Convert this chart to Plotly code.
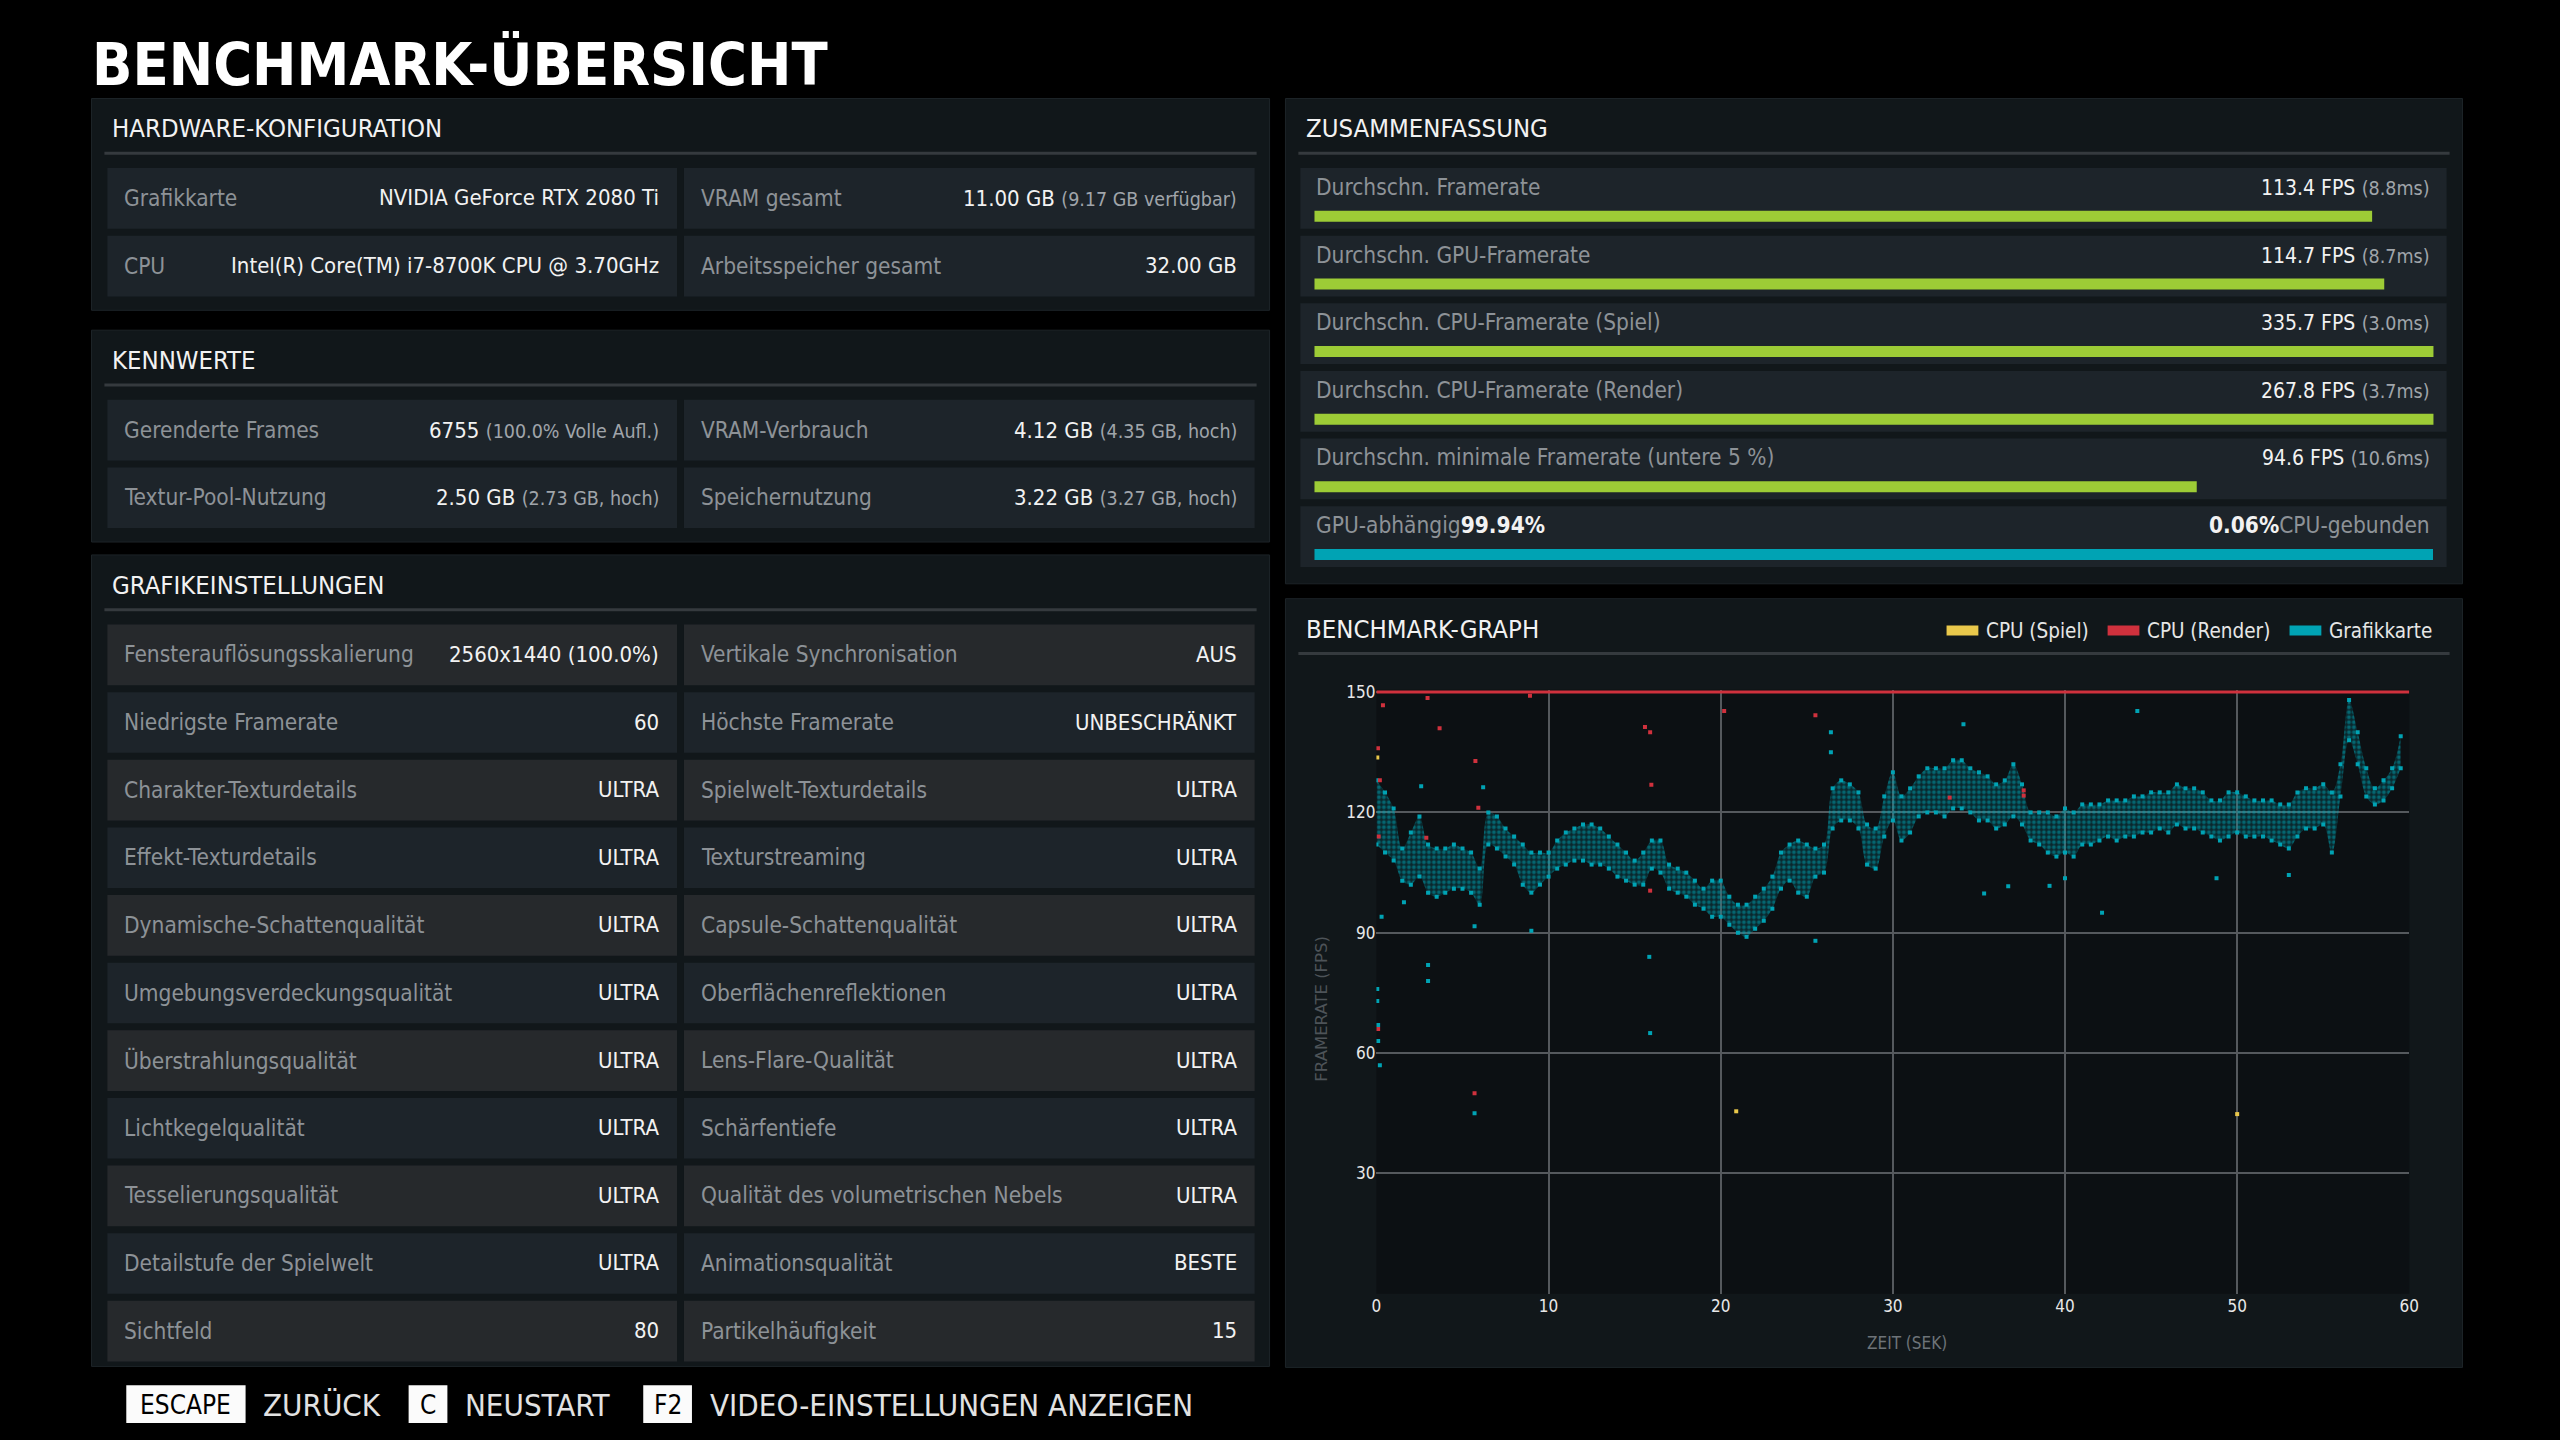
import plotly.graph_objects as go

W, H = 2560, 1440
FONT = "DejaVu Sans Condensed, Liberation Sans Narrow, Noto Sans, sans-serif"

# ---------------- data ----------------
hardware_left = [("Grafikkarte", "NVIDIA GeForce RTX 2080 Ti", ""),
                 ("CPU", "Intel(R) Core(TM) i7-8700K CPU @ 3.70GHz", "")]
hardware_right = [("VRAM gesamt", "11.00 GB", "(9.17 GB verfügbar)"),
                  ("Arbeitsspeicher gesamt", "32.00 GB", "")]

kennwerte_left = [("Gerenderte Frames", "6755", "(100.0% Volle Aufl.)"),
                  ("Textur-Pool-Nutzung", "2.50 GB", "(2.73 GB, hoch)")]
kennwerte_right = [("VRAM-Verbrauch", "4.12 GB", "(4.35 GB, hoch)"),
                   ("Speichernutzung", "3.22 GB", "(3.27 GB, hoch)")]

grafik_left = [("Fensterauflösungsskalierung", "2560x1440 (100.0%)"),
               ("Niedrigste Framerate", "60"),
               ("Charakter-Texturdetails", "ULTRA"),
               ("Effekt-Texturdetails", "ULTRA"),
               ("Dynamische-Schattenqualität", "ULTRA"),
               ("Umgebungsverdeckungsqualität", "ULTRA"),
               ("Überstrahlungsqualität", "ULTRA"),
               ("Lichtkegelqualität", "ULTRA"),
               ("Tesselierungsqualität", "ULTRA"),
               ("Detailstufe der Spielwelt", "ULTRA"),
               ("Sichtfeld", "80")]
grafik_right = [("Vertikale Synchronisation", "AUS"),
                ("Höchste Framerate", "UNBESCHRÄNKT"),
                ("Spielwelt-Texturdetails", "ULTRA"),
                ("Texturstreaming", "ULTRA"),
                ("Capsule-Schattenqualität", "ULTRA"),
                ("Oberflächenreflektionen", "ULTRA"),
                ("Lens-Flare-Qualität", "ULTRA"),
                ("Schärfentiefe", "ULTRA"),
                ("Qualität des volumetrischen Nebels", "ULTRA"),
                ("Animationsqualität", "BESTE"),
                ("Partikelhäufigkeit", "15")]

summary_labels = ["Durchschn. Framerate", "Durchschn. GPU-Framerate",
                  "Durchschn. CPU-Framerate (Spiel)", "Durchschn. CPU-Framerate (Render)",
                  "Durchschn. minimale Framerate (untere 5 %)"]
summary_fps = [113.4, 114.7, 335.7, 267.8, 94.6]
summary_ms = [8.8, 8.7, 3.0, 3.7, 10.6]
bar_max_fps = 120
gpu_bound_pct = 99.94
cpu_bound_pct = 0.06

# framerate graph, GPU point cloud read every 0.5 s (upper / lower edge of the band)
gpu_t = [i * 0.5 for i in range(120)]
gpu_upper = [128, 125, 121, 111, 115, 119, 112, 111, 111, 112, 111, 110, 106, 120, 119, 116, 114, 112, 110, 110,
             110, 113, 115, 116, 117, 117, 116, 114, 112, 110, 108, 110, 113, 113, 107, 106, 105, 103, 101, 103,
             103, 99, 97, 97, 99, 101, 104, 110, 112, 113, 112, 111, 112, 126, 128, 127, 125, 117, 116, 124,
             130, 124, 126, 129, 131, 131, 131, 133, 133, 131, 130, 129, 127, 128, 132, 127, 120, 120, 120, 119,
             121, 120, 122, 122, 122, 123, 123, 123, 124, 124, 125, 125, 125, 127, 126, 126, 125, 123, 123, 125,
             125, 124, 123, 123, 123, 122, 122, 125, 126, 126, 127, 125, 132, 148, 140, 131, 126, 128, 131, 139]
gpu_lower = [112, 110, 108, 103, 102, 104, 100, 99, 100, 101, 101, 100, 97, 112, 111, 109, 107, 102, 100, 102,
             104, 106, 107, 108, 108, 107, 107, 106, 104, 103, 102, 102, 106, 105, 101, 100, 99, 97, 96, 94,
             94, 92, 90, 89, 91, 93, 96, 101, 103, 100, 99, 104, 105, 116, 118, 118, 116, 107, 106, 114,
             118, 113, 115, 119, 120, 120, 119, 121, 121, 120, 118, 118, 116, 117, 119, 117, 113, 112, 110, 109,
             110, 109, 112, 112, 113, 114, 113, 114, 114, 115, 115, 116, 115, 117, 116, 116, 115, 114, 113, 114,
             115, 114, 114, 114, 113, 112, 111, 114, 116, 116, 117, 110, 124, 138, 132, 124, 122, 123, 126, 131]

gpu_out_t = [0.05, 0.05, 0.1, 0.1, 0.2, 0.3, 1.6, 2.6, 3.0, 3.0, 5.7, 5.7, 6.2, 9.0, 15.85, 15.9,
             25.5, 26.4, 26.4, 34.1, 35.3, 36.7, 39.1, 40.0, 42.15, 44.2, 48.8, 53.0]
gpu_out_fps = [76, 73, 67, 63, 57, 94, 97.6, 126.5, 82, 78, 91.6, 45, 126.3, 90.5, 84, 65,
               88, 140, 135, 142, 99.8, 101.6, 101.7, 103.6, 95, 145.3, 103.6, 104.4]
render_out_t = [0.09, 0.13, 0.2, 0.38, 2.9, 2.97, 3.67, 5.7, 5.75, 5.92, 8.92, 15.6, 15.9, 15.9,
                15.97, 20.2, 25.5, 33.3, 37.6, 37.6, 0.1]
render_out_fps = [136, 114, 128, 146.7, 113.7, 148.5, 141, 50, 132.8, 121.2, 149.1, 141.3, 140, 100.5,
                  126.9, 145.3, 144.2, 123.7, 125.5, 124.2, 66]
game_out_t = [0.05, 20.9, 50.0]
game_out_fps = [133.7, 45.5, 44.8]
cpu_render_t = [0, 60]
cpu_render_fps = [267.8, 267.8]   # off the chart, clipped at the top

graph_ymax = 150
x_ticks = [0, 10, 20, 30, 40, 50, 60]
y_ticks = [30, 60, 90, 120, 150]

# ---------------- colours ----------------
BG = "#000000"
PANEL = "#11171a"
PANEL_EDGE = "#1d2428"
ROW = "#1d242a"
ROW_ALT = "#26292c"
SEP = "#353a3e"
LABEL = "#8d9297"
VALUE = "#f2f2f2"
SUB = "#a0a5aa"
GREEN = "#9dcc36"
TEAL = "#00a3b4"
RED = "#d0313d"
YELLOW = "#e9c84b"

LBL_SIZE = 22.5
VAL_SIZE = 22
SUB_SIZE = 19.5


def px(x):
    return x / W


def py(y):
    return 1 - y / H


shapes = []
annotations = []


def rect(x0, y0, x1, y1, color, line=None):
    shapes.append(dict(type="rect", xref="paper", yref="paper", layer="below",
                       x0=px(x0), x1=px(x1), y0=py(y1), y1=py(y0), fillcolor=color,
                       line=dict(width=1, color=line) if line else dict(width=0)))


def text(x, y, s, size=LBL_SIZE, color=VALUE, anchor="left", family=FONT, angle=0):
    annotations.append(dict(xref="paper", yref="paper", x=px(x), y=py(y), text=s,
                            showarrow=False, xanchor=anchor, yanchor="middle", textangle=angle,
                            font=dict(family=family, size=size, color=color)))


def panel(x0, y0, x1, y1, title):
    rect(x0, y0, x1, y1, PANEL, PANEL_EDGE)
    text(x0 + 19, y0 + 30, title, size=25.5)
    shapes.append(dict(type="line", xref="paper", yref="paper", layer="below",
                       x0=px(x0 + 13), x1=px(x1 - 13), y0=py(y0 + 55), y1=py(y0 + 55),
                       line=dict(color=SEP, width=3)))


def value_text(main, sub, size=VAL_SIZE):
    main = f"<span style='font-size:{size}px'>{main}</span>"
    if sub:
        return f"{main} <span style='font-size:{SUB_SIZE}px;color:{SUB}'>{sub}</span>"
    return main


def rows(top, col, items, alternate=False):
    x0, x1 = col
    for i, item in enumerate(items):
        y0 = top + 70 + 68 * i
        color = ROW_ALT if alternate and i % 2 == 0 else ROW
        rect(x0, y0, x1, y0 + 61, color)
        text(x0 + 15, y0 + 30, item[0], color=LABEL)
        sub = item[2] if len(item) > 2 else ""
        text(x1 - 16, y0 + 30, value_text(item[1], sub), anchor="right")


LEFT_COL = (103, 676)
RIGHT_COL = (683, 1257)

# title
text(85, 57, "<b>BENCHMARK-ÜBERSICHT</b>", size=59, color="#ffffff")

# left column panels
panel(87, 91, 1272, 304, "HARDWARE-KONFIGURATION")
rows(91, LEFT_COL, hardware_left)
rows(91, RIGHT_COL, hardware_right)

panel(87, 324, 1272, 537, "KENNWERTE")
rows(324, LEFT_COL, kennwerte_left)
rows(324, RIGHT_COL, kennwerte_right)

panel(87, 550, 1272, 1366, "GRAFIKEINSTELLUNGEN")
rows(550, LEFT_COL, grafik_left, alternate=True)
rows(550, RIGHT_COL, grafik_right, alternate=True)

# summary panel
panel(1288, 91, 2472, 579, "ZUSAMMENFASSUNG")
for i, lab in enumerate(summary_labels + ["GPU-abhängig"]):
    y0 = 161 + 68 * i
    rect(1303, y0, 2456, y0 + 61, ROW)
    if i < len(summary_labels):
        text(1317, y0 + 19, lab, color=LABEL)
        text(2441, y0 + 19, value_text(f"{summary_fps[i]:.1f} FPS", f"({summary_ms[i]:.1f}ms)", 21),
             anchor="right")
    else:
        text(1317, y0 + 19, f"{lab}<span style='color:{VALUE}'><b>{gpu_bound_pct:.2f}%</b></span>",
             color=LABEL)
        text(2441, y0 + 19, f"<span style='color:{VALUE}'><b>{cpu_bound_pct:.2f}%</b></span>CPU-gebunden",
             color=LABEL, anchor="right")

bar_x = [min(v, bar_max_fps) / bar_max_fps for v in summary_fps] + [gpu_bound_pct / 100]
bar_y = summary_labels + ["GPU-abhängig"]
bar_colors = [GREEN] * len(summary_fps) + [TEAL]

# graph panel
panel(1288, 594, 2472, 1367, "BENCHMARK-GRAPH")
legend_items = [("CPU (Spiel)", YELLOW, 1953), ("CPU (Render)", RED, 2115), ("Grafikkarte", TEAL, 2298)]
for name, col, lx in legend_items:
    rect(lx, 621, lx + 32, 631, col)
    text(lx + 38, 626, name, size=20.5, color="#e6e6e6")
rect(1379.5, 685.5, 2418.5, 1293, "#0c1013")
text(1324, 1006, "FRAMERATE (FPS)", size=16.5, color="#4d5358", family="DejaVu Sans, sans-serif",
     anchor="center", angle=-90)
text(1913, 1342, "ZEIT (SEK)", size=17, color="#6d7378", anchor="center")

# bottom key hints
keys = [("ESCAPE", "ZURÜCK", 122, 242), ("C", "NEUSTART", 406, 445), ("F2", "VIDEO-EINSTELLUNGEN ANZEIGEN", 642, 691)]
for key, label, kx0, kx1 in keys:
    rect(kx0, 1385, kx1, 1423, "#fbfbfb")
    text((kx0 + kx1) / 2, 1405, key, size=26, color="#000000", anchor="center")
    text(kx1 + 16, 1405, label, size=31, color="#e2e2e2")

fig = go.Figure()

fig.add_trace(go.Bar(x=bar_x, y=bar_y, orientation="h", marker=dict(color=bar_colors, line=dict(width=0)),
                     xaxis="x", yaxis="y", showlegend=False, hoverinfo="skip"))

fig.add_trace(go.Scatter(x=gpu_t, y=gpu_lower, mode="lines+markers", line=dict(width=0, color=TEAL, shape="spline"),
                         marker=dict(size=4, color=TEAL, symbol="square"), xaxis="x2", yaxis="y2",
                         showlegend=False, hoverinfo="skip"))
fig.add_trace(go.Scatter(x=gpu_t, y=gpu_upper, mode="lines+markers", fill="tonexty",
                         fillcolor="rgba(0,163,180,0.16)",
                         fillpattern=dict(shape=".", fgcolor=TEAL, bgcolor="rgba(0,163,180,0.16)",
                                          size=5, solidity=0.45),
                         line=dict(width=0, color=TEAL, shape="spline"),
                         marker=dict(size=4, color=TEAL, symbol="square"), xaxis="x2", yaxis="y2",
                         showlegend=False, hoverinfo="skip"))
fig.add_trace(go.Scatter(x=gpu_out_t, y=gpu_out_fps, mode="markers",
                         marker=dict(size=4, color=TEAL, symbol="square"), xaxis="x2", yaxis="y2",
                         showlegend=False, hoverinfo="skip"))
fig.add_trace(go.Scatter(x=render_out_t, y=render_out_fps, mode="markers",
                         marker=dict(size=4, color=RED, symbol="square"), xaxis="x2", yaxis="y2",
                         showlegend=False, hoverinfo="skip"))
fig.add_trace(go.Scatter(x=game_out_t, y=game_out_fps, mode="markers",
                         marker=dict(size=4, color=YELLOW, symbol="square"), xaxis="x2", yaxis="y2",
                         showlegend=False, hoverinfo="skip"))
fig.add_trace(go.Scatter(x=cpu_render_t, y=[min(v, graph_ymax) for v in cpu_render_fps], mode="lines",
                         line=dict(width=3, color=RED), xaxis="x2", yaxis="y2",
                         showlegend=False, hoverinfo="skip"))

fig.update_layout(
    width=W, height=H,
    margin=dict(l=0, r=0, t=0, b=0),
    paper_bgcolor=BG, plot_bgcolor="rgba(0,0,0,0)",
    bargap=1 - 11 / 68,
    shapes=shapes, annotations=annotations,
    xaxis=dict(domain=[px(1317), px(2443)], range=[0, 1], visible=False, fixedrange=True, anchor="y"),
    yaxis=dict(domain=[py(583.5), py(175.5)], type="category", range=[5.5, -0.5],
               visible=False, fixedrange=True, anchor="x"),
    xaxis2=dict(domain=[px(1379.5), px(2418.5)], range=[0, 60], tickvals=x_ticks, anchor="y2",
                showgrid=True, gridcolor="#55595d", gridwidth=2, zeroline=False, showline=False,
                ticks="", tickfont=dict(family=FONT, size=17, color="#e8e8e8"), fixedrange=True),
    yaxis2=dict(domain=[py(1293), py(685.5)], range=[0, graph_ymax + 0.6], tickvals=y_ticks, anchor="x2",
                showgrid=True, gridcolor="#55595d", gridwidth=2, zeroline=False, showline=False,
                ticks="", tickfont=dict(family=FONT, size=17, color="#e8e8e8"), fixedrange=True),
)

# drop the default body margin so the 2560x1440 figure fills the window exactly
fig.write_html("out.html", config={"displayModeBar": False},
               post_script="document.body.style.margin='0';document.body.style.overflow='hidden';")
